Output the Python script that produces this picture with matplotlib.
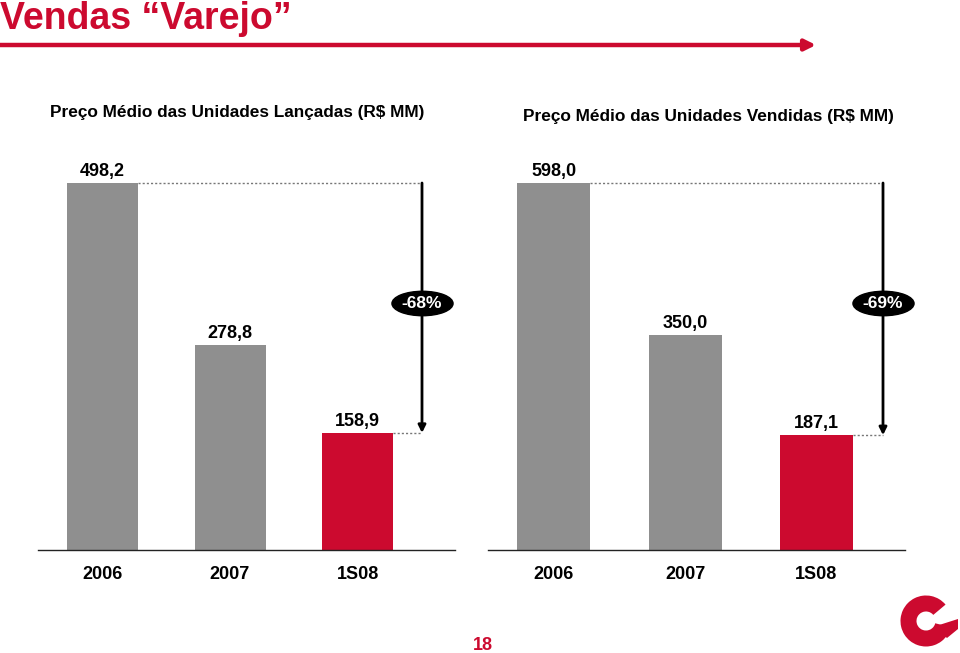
import matplotlib
matplotlib.use("Agg")
import matplotlib.pyplot as plt
from matplotlib.patches import Wedge, Polygon
from matplotlib.path import Path
from matplotlib.transforms import Affine2D

# ---- data ----
years = ["2006", "2007", "1S08"]
launched = [498.2, 278.8, 158.9]
sold = [598.0, 350.0, 187.1]
labels_launched = ["498,2", "278,8", "158,9"]
labels_sold = ["598,0", "350,0", "187,1"]
title = "Vendas \u201cVarejo\u201d"
sub_left = "Preço Médio das Unidades Lançadas (R$ MM)"
sub_right = "Preço Médio das Unidades Vendidas (R$ MM)"
page = "18"

RED = "#cc0a2f"
GRAY = "#8f8f8f"
FONT = "Liberation Sans"
plt.rcParams['font.family'] = [FONT, 'DejaVu Sans']

W, H = 960, 653
fig = plt.figure(figsize=(W / 100, H / 100), dpi=100)

def px_axes(x0, y0, x1, y1):
    return fig.add_axes([x0 / W, 1 - y1 / H, (x1 - x0) / W, (y1 - y0) / H])

# overlay for decorations
ov = fig.add_axes([0, 0, 1, 1])
ov.set_xlim(0, W)
ov.set_ylim(H, 0)
ov.axis("off")
ov.patch.set_alpha(0)

ov.text(0, 19, title, fontsize=27, fontweight="bold", color=RED,
        va="center", ha="left")
ov.annotate("", xy=(816, 45), xytext=(0, 45),
            arrowprops=dict(arrowstyle="-|>", lw=3.2, color=RED, mutation_scale=16,
                            shrinkA=0, shrinkB=0))
ov.text(50, 113, sub_left, fontsize=12.4, fontweight="bold", va="center", ha="left")
ov.text(523, 117, sub_right, fontsize=12.4, fontweight="bold", va="center", ha="left")
ov.text(483, 646, page, fontsize=13, fontweight="bold", color=RED, va="center", ha="center")
# logo
ov.add_patch(Wedge((926, 621), 25.5, 14, 320, width=16, color=RED, lw=0))
ov.add_patch(Polygon([[936, 626], [958, 619], [958, 629], [947, 638], [940, 632]],
                     closed=True, color=RED, lw=0))

ellipse_marker = Path.unit_circle().transformed(Affine2D().scale(1.0, 0.4))


def panel(x0, x1, xcenter0, spacing, barw_px, values, labels, arrow_px):
    ax = px_axes(x0, 150, x1, 550)
    scale = 367.0 / values[0]
    ax.set_ylim(0, 400.0 / scale)
    ax.set_xlim((x0 - xcenter0) / spacing, (x1 - xcenter0) / spacing)
    bw = barw_px / spacing
    xs = list(range(len(values)))
    colors = [GRAY, GRAY, RED]
    ax.bar(xs, values, width=bw, color=colors, zorder=2)
    for x, v, lab in zip(xs, values, labels):
        ax.annotate(lab, (x, v), xytext=(0, 2), textcoords="offset points",
                    ha="center", va="bottom", fontsize=13, fontweight="bold")
    ax.set_xticks(xs)
    ax.set_xticklabels(years, fontsize=13, fontweight="bold")
    ax.tick_params(axis="x", length=0, pad=11.5)
    ax.set_yticks([])
    for s in ["top", "left", "right"]:
        ax.spines[s].set_visible(False)
    ax.spines["bottom"].set_color("#222222")
    ax.spines["bottom"].set_linewidth(1.0)
    ax.patch.set_alpha(0)
    xa = (arrow_px - xcenter0) / spacing
    ax.plot([xs[0] + bw / 2, xa], [values[0], values[0]], ls=(0, (1.5, 1.5)), color="#777777", lw=1)
    ax.plot([xs[-1] + bw / 2, xa], [values[-1], values[-1]], ls=(0, (1.5, 1.5)), color="#777777", lw=1)
    ax.annotate("", xy=(xa, values[-1]), xytext=(xa, values[0]),
                arrowprops=dict(arrowstyle="-|>", lw=2.0, color="black", mutation_scale=11,
                                shrinkA=0, shrinkB=0))
    pct = round((values[-1] / values[0] - 1) * 100)
    ty = 0.6175
    ax.plot([xa], [ty], transform=ax.get_xaxis_transform(), marker=ellipse_marker,
            ms=44, color="black", mec="black", zorder=5, clip_on=False)
    ax.text(xa, ty, f"{pct}%", transform=ax.get_xaxis_transform(),
            ha="center", va="center", fontsize=12.5, fontweight="bold", color="white",
            zorder=6, clip_on=False)
    return ax

panel(38, 455, 102.5, 127.5, 71, launched, labels_launched, 422)
panel(488, 905, 553.5, 131.5, 73, sold, labels_sold, 883)

fig.savefig("out.png", dpi=100)
